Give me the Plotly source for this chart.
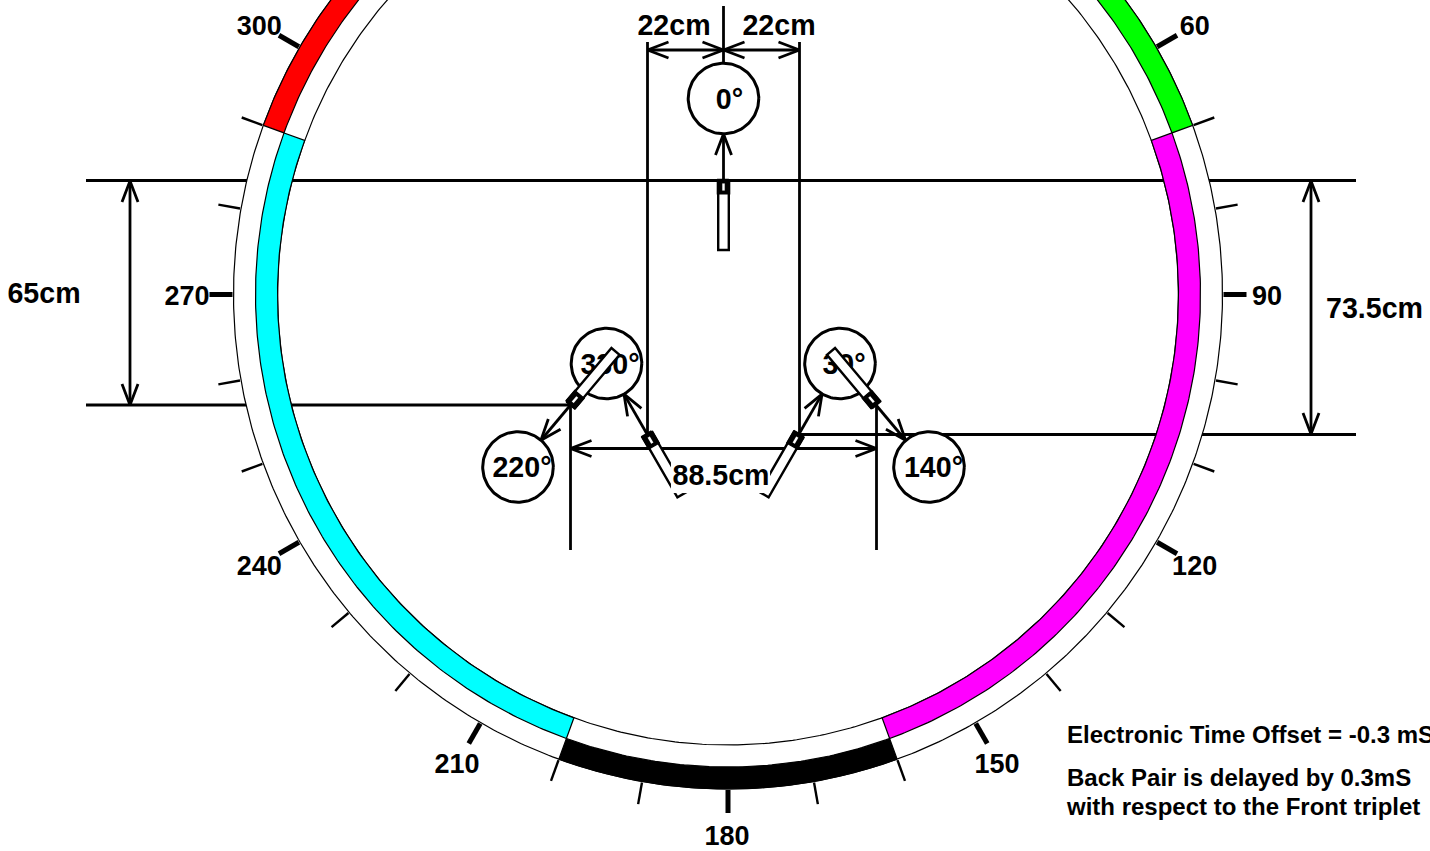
import numpy as np
import plotly.graph_objects as go

# ---- values ----
tick_angles = [60, 70, 80, 90, 100, 110, 120, 130, 140, 150, 160, 170, 180,
               190, 200, 210, 220, 230, 240, 250, 260, 270, 280, 290, 300]
labelled_ticks = [60, 90, 120, 150, 180, 210, 240, 270, 300]
band_starts = [-70, 70, 160, 200]
band_ends = [70, 160, 200, 290]
band_colours = ["#ff0000", "#00ff00", "#ff00ff", "#000000", "#00ffff"]
mic_names = ["0°", "330°", "30°", "220°", "140°"]
mic_angles = [0, 330, 30, 220, 140]
dimension_labels = ["22cm", "22cm", "65cm", "73.5cm", "88.5cm"]
notes = ["Electronic Time Offset = -0.3 mS", "Back Pair is delayed by 0.3mS",
         "with respect to the Front triplet"]

# ---- drawing geometry (page pixels) ----
W, H = 1430, 851
CX, CY = 728.0, 294.5
R_IN, R_MID, R_OUT = 450.5, 472.5, 494.5
FONT = "Liberation Sans"
fig = go.Figure()


def pol(a, r):
    a = np.radians(a)
    return CX + r * np.sin(a), CY - r * np.cos(a)


def add_line(xs, ys, w=2.8, color="black", fill=None, fillcolor=None):
    fig.add_trace(go.Scatter(x=list(xs), y=list(ys), mode="lines",
                             line=dict(color=color, width=w),
                             fill=fill, fillcolor=fillcolor,
                             hoverinfo="skip", showlegend=False))


def add_text(x, y, s, size=28.6, pos="middle center"):
    fig.add_trace(go.Scatter(x=[x], y=[y], mode="text", text=[s], textposition=pos,
                             textfont=dict(family=FONT, size=size, color="black", weight="bold"),
                             hoverinfo="skip", showlegend=False))


def arrow_head(tx, ty, dx, dy, length=21, half=8):
    n = np.hypot(dx, dy)
    ux, uy = dx / n, dy / n
    add_line([tx - ux * length - uy * half, tx, tx - ux * length + uy * half],
             [ty - uy * length + ux * half, ty, ty - uy * length - ux * half])


def dim(x0, y0, x1, y1):
    add_line([x0, x1], [y0, y1])
    arrow_head(x0, y0, x0 - x1, y0 - y1)
    arrow_head(x1, y1, x1 - x0, y1 - y0)


def annular(a0, a1, r0, r1, fc, lw=1.2):
    t = np.linspace(a0, a1, max(int(abs(a1 - a0) * 2), 8))
    xo, yo = pol(t, r1)
    xi, yi = pol(t[::-1], r0)
    xs = np.r_[xo, xi, xo[0]]
    ys = np.r_[yo, yi, yo[0]]
    add_line(xs, ys, w=lw, color="black", fill="toself", fillcolor=fc)


def poly(pts, fc, lw=2.0, lc="black"):
    xs = [p[0] for p in pts] + [pts[0][0]]
    ys = [p[1] for p in pts] + [pts[0][1]]
    add_line(xs, ys, w=lw, color=lc, fill="toself", fillcolor=fc)


def oriented_rect(px, py, ux, uy, start, end, half):
    nx, ny = -uy, ux
    a = (px + ux * start + nx * half, py + uy * start + ny * half)
    b = (px + ux * start - nx * half, py + uy * start - ny * half)
    c = (px + ux * end - nx * half, py + uy * end - ny * half)
    d = (px + ux * end + nx * half, py + uy * end + ny * half)
    return [a, b, c, d]


# construction lines (the ring hides them where they cross it)
for xs, ys in [([86, 1356], [180.5, 180.5]), ([86, 570], [405, 405]), ([799, 1356], [434.5, 434.5]),
               ([647.5, 647.5], [42, 434]), ([799.5, 799.5], [42, 434]), ([723.5, 723.5], [6, 64]),
               ([570.5, 570.5], [405, 550]), ([876.5, 876.5], [405, 550])]:
    add_line(xs, ys)

# ring and coloured bands
annular(0, 360, R_IN, R_OUT, "white")
annular(band_starts[0], 0, R_MID, R_OUT, band_colours[0])              # red, outer
annular(0, band_ends[0], R_MID, R_OUT, band_colours[1])                # green, outer
annular(band_starts[1], band_ends[1], R_IN, R_MID, band_colours[2])    # magenta, inner
annular(band_starts[2], band_ends[2], R_MID, R_OUT, band_colours[3])   # black, outer
annular(band_starts[3], band_ends[3], R_IN, R_MID, band_colours[4])    # cyan, inner

# ticks and their labels
for a in tick_angles:
    major = a in labelled_ticks
    x0, y0 = pol(a, R_OUT + 1)
    x1, y1 = pol(a, R_OUT + (24 if major else 23))
    add_line([x0, x1], [y0, y1], w=5 if major else 2.4)
    if major:
        lx, ly = pol(a, 540)
        add_text(lx - 1, ly + 4, str(a), size=27)

# dimension arrows
dim(647.5, 50, 723.5, 50)
dim(723.5, 50, 799.5, 50)
dim(130, 181, 130, 405)
dim(1311, 181, 1311, 434)
dim(570.5, 448.5, 876.5, 448.5)
add_text(674, 28, dimension_labels[0])
add_text(779, 28, dimension_labels[1])
add_text(44, 295.5, dimension_labels[2])
add_text(1374.5, 310.5, dimension_labels[3])

# microphone target circles and their names
circle_x = [723.5, 606.5, 840, 518, 929]
circle_y = [98.5, 363.5, 363.5, 467, 467]
text_x = [729.5, 610, 844, 522, 933.5]
t = np.linspace(0, 2 * np.pi, 121)
for cx, cy, tx, name in zip(circle_x, circle_y, text_x, mic_names):
    add_line(cx + 35.3 * np.cos(t), cy + 35.3 * np.sin(t), w=3, fill="toself", fillcolor="white")
    add_text(tx, cy + 3, name)

# microphones: capsule end position, with facing angle
mic_x = [723.5, 647, 799, 570.5, 876]
mic_y = [180, 434, 434, 405, 405]
for px, py, ang in zip(mic_x, mic_y, mic_angles):
    ux, uy = np.sin(np.radians(ang)), -np.cos(np.radians(ang))
    add_line([px, px + ux * 46], [py, py + uy * 46])
    arrow_head(px + ux * 46, py + uy * 46, ux, uy)
    poly(oriented_rect(px, py, ux, uy, 0, -70, 5.3), "white", lw=2.4)
    poly(oriented_rect(px, py, ux, uy, 0, -14, 6.2), "black", lw=1.2)
    poly(oriented_rect(px, py, ux, uy, -3.5, -10.5, 1.2), "white", lw=0.1, lc="white")

# the 88.5cm label sits on a white box that hides the mic ends
poly([(671, 462), (770, 462), (770, 493), (671, 493)], "white", lw=0.1, lc="white")
add_text(721, 478, dimension_labels[4])

# notes
add_text(1067, 737, notes[0], size=24, pos="middle right")
add_text(1067, 780, notes[1], size=24, pos="middle right")
add_text(1067, 809, notes[2], size=24, pos="middle right")

fig.update_layout(
    width=W, height=H, margin=dict(l=0, r=0, t=0, b=0),
    paper_bgcolor="white", plot_bgcolor="white", showlegend=False,
    xaxis=dict(range=[0, W], visible=False, fixedrange=True),
    yaxis=dict(range=[H, 0], visible=False, fixedrange=True),
)
fig.write_html("out.html", config=dict(displayModeBar=False),
               post_script="document.body.style.margin='0';document.body.style.overflow='hidden';")
